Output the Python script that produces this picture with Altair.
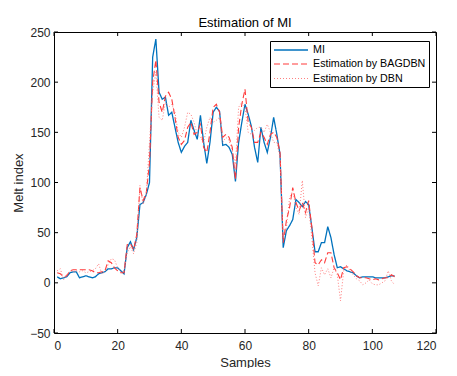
import altair as alt
import pandas as pd

samples = list(range(1, 108))

mi = [6, 4, 5, 6, 10, 11, 11, 5, 6, 7, 6, 5, 6, 9, 10, 11, 14, 14, 15, 15,
      12, 9, 35, 41, 33, 45, 78, 80, 88, 100, 225, 243, 190, 183, 185, 167, 170, 155, 140, 130,
      136, 140, 162, 152, 143, 167, 140, 119, 140, 170, 175, 171, 137, 138, 135, 128, 101, 140, 160, 178,
      168, 156, 135, 120, 155, 140, 130, 145, 165, 148, 128, 35, 52, 57, 63, 83, 80, 76, 81, 78,
      55, 31, 31, 40, 40, 56, 45, 28, 15, 16, 14, 12, 11, 10, 7, 5, 6, 6, 6, 6,
      5, 5, 5, 5, 6, 7, 7]

bagdbn = [10, 9, 6, 7, 12, 13, 13, 13, 13, 13, 13, 12, 10, 10, 11, 12, 22, 20, 15, 12,
          10, 10, 38, 39, 33, 48, 95, 82, 90, 120, 200, 222, 180, 170, 186, 190, 183, 165, 145, 138,
          142, 155, 160, 148, 150, 158, 135, 130, 150, 175, 178, 170, 145, 148, 145, 135, 103, 155, 178, 193,
          160, 155, 140, 140, 150, 145, 138, 148, 150, 145, 130, 40, 62, 75, 95, 80, 72, 80, 70, 82,
          55, 20, 18, 23, 20, 30, 30, 15, 10, 3, 15, 16, 14, 11, 7, 5, 5, 5, 4, 3,
          4, 3, 4, 5, 5, 8, 6]

dbn = [12, 14, 3, 8, 12, 11, 12, 11, 12, 10, 11, 12, 14, 19, 9, 11, 18, 24, 23, 15,
       11, 12, 30, 36, 29, 40, 97, 78, 88, 140, 190, 210, 165, 162, 180, 175, 178, 170, 150, 145,
       155, 170, 168, 160, 148, 145, 140, 155, 165, 160, 162, 165, 140, 145, 142, 132, 118, 175, 180, 175,
       150, 148, 152, 155, 155, 150, 158, 150, 140, 140, 125, 45, 55, 85, 92, 75, 68, 102, 65, 75,
       45, 10, -3, 15, 8, 14, 5, 15, 8, -18, 12, 18, 12, 8, 4, 2, -2, 0, 3, -1,
       -2, -2, 0, 2, 12, 2, -2]

series_names = ["MI", "Estimation by BAGDBN", "Estimation by DBN"]
series_colors = ["#0072BD", "#FF3B3B", "#FF7070"]
series_dash = [[1, 0], [6, 3], [1, 2]]
series_width = [1.3, 0.9, 0.9]

x_ticks = [0, 20, 40, 60, 80, 100, 120]
y_ticks = [-50, 0, 50, 100, 150, 200, 250]

W, H = 382, 301
FONT = "Liberation Sans"

rows = []
for name, vals in zip(series_names, [mi, bagdbn, dbn]):
    for s, v in zip(samples, vals):
        rows.append({"Samples": s, "value": v, "series": name})
df = pd.DataFrame(rows)

xs = alt.Scale(domain=[0, 120], nice=False)
ys = alt.Scale(domain=[-50, 250], nice=False)

lines = alt.Chart(df).mark_line(clip=True).encode(
    x=alt.X("Samples:Q", scale=xs,
            axis=alt.Axis(values=x_ticks, title="Samples", labelPadding=7,
                          titleY=29, titleBaseline="middle")),
    y=alt.Y("value:Q", scale=ys,
            axis=alt.Axis(values=y_ticks, title="Melt index", labelPadding=4,
                          titleX=-36, titleY=H / 2, titleBaseline="middle")),
    color=alt.Color("series:N", sort=series_names,
                    scale=alt.Scale(domain=series_names, range=series_colors),
                    legend=alt.Legend(title=None, orient="none", legendX=216, legendY=9,
                                      symbolType="M-1,0H5.8", symbolSize=100,
                                      symbolStrokeWidth=1.2,
                                      labelFontSize=10.7, labelFont=FONT, labelColor="#000",
                                      labelOffset=28, rowPadding=3,
                                      strokeColor="#000", padding=3,
                                      fillColor="#fff")),
    strokeDash=alt.StrokeDash("series:N", sort=series_names,
                              scale=alt.Scale(domain=series_names, range=series_dash),
                              legend=None),
    strokeWidth=alt.StrokeWidth("series:N",
                                scale=alt.Scale(domain=series_names, range=series_width),
                                legend=None),
    order=alt.Order("Samples:Q"),
)

xt = pd.DataFrame({"t": x_ticks})
yt = pd.DataFrame({"t": y_ticks})
tick_style = dict(color="#000", strokeWidth=1)

xtick_bot = alt.Chart(xt).mark_rule(**tick_style).encode(
    x=alt.X("t:Q", scale=xs), y=alt.value(H), y2=alt.value(H - 4))
xtick_top = alt.Chart(xt).mark_rule(**tick_style).encode(
    x=alt.X("t:Q", scale=xs), y=alt.value(0), y2=alt.value(4))
ytick_left = alt.Chart(yt).mark_rule(**tick_style).encode(
    y=alt.Y("t:Q", scale=ys), x=alt.value(0), x2=alt.value(4))
ytick_right = alt.Chart(yt).mark_rule(**tick_style).encode(
    y=alt.Y("t:Q", scale=ys), x=alt.value(W), x2=alt.value(W - 4))

chart = alt.layer(xtick_bot, xtick_top, ytick_left, ytick_right, lines).properties(
    width=W, height=H,
    background="#ffffff",
    title=alt.Title("Estimation of MI", fontSize=13, font=FONT, fontWeight="normal",
                    color="#000", baseline="alphabetic", offset=5, frame="group", dy=19),
    autosize=alt.AutoSizeParams(type="none"),
    padding={"left": 46, "top": 24, "right": 13, "bottom": 35},
).configure_view(
    stroke="#000", strokeWidth=1
).configure_axis(
    domain=False, ticks=False, grid=False,
    labelFont=FONT, labelFontSize=12, labelColor="#262626",
    titleFont=FONT, titleFontSize=13, titleFontWeight="normal", titleColor="#262626",
)

chart.save("out.html", embed_options={"renderer": "svg", "actions": False})
